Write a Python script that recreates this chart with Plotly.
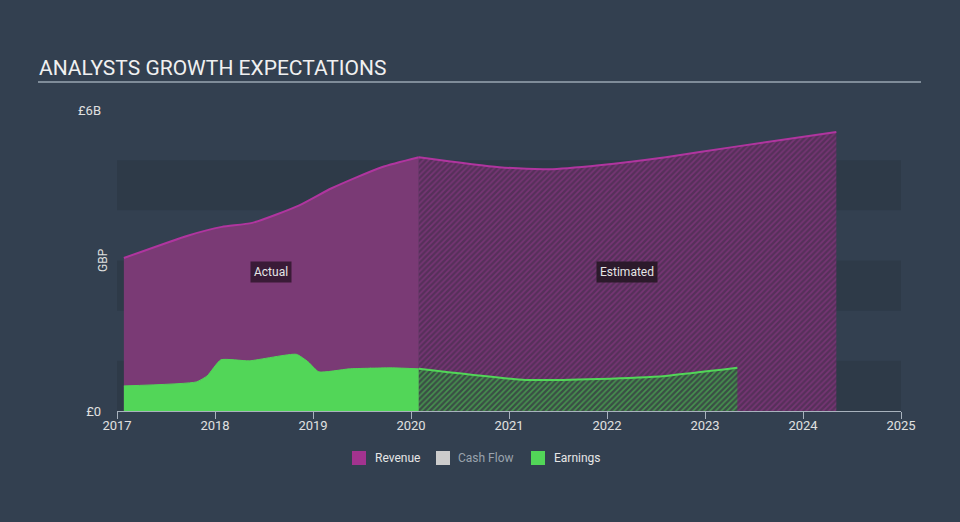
import plotly.graph_objects as go

# ---- data (GBP billions, decimal years) ----
rev_act_x = [2017.07, 2017.73, 2018.07, 2018.38, 2018.86, 2019.19, 2019.70, 2020.08]
rev_act_y = [3.05, 3.50, 3.67, 3.75, 4.10, 4.44, 4.86, 5.06]
rev_est_x = [2020.08, 2020.90, 2021.41, 2021.92, 2022.60, 2023.28, 2024.34]
rev_est_y = [5.06, 4.86, 4.82, 4.90, 5.06, 5.26, 5.56]

earn_act_x = [2017.07, 2017.81, 2017.92, 2018.06, 2018.35, 2018.83, 2018.95, 2019.06, 2019.37, 2019.81, 2020.08]
earn_act_y = [0.50, 0.58, 0.70, 1.02, 1.00, 1.13, 0.98, 0.78, 0.84, 0.86, 0.84]
earn_est_x = [2020.08, 2021.17, 2021.92, 2022.60, 2023.33]
earn_est_y = [0.84, 0.62, 0.64, 0.70, 0.86]

x_ticks = [2017, 2018, 2019, 2020, 2021, 2022, 2023, 2024, 2025]
y_ticks = [0, 6]
y_tick_labels = ["£0", "£6B"]
legend_names = ["Revenue", "Cash Flow", "Earnings"]
legend_colors = ["#a3338f", "#cccccc", "#52d658"]
legend_text_colors = ["#e6e6e6", "#9aa3ad", "#e6e6e6"]

BG = "#334050"
L, R, T, B = 117, 59, 110, 111
W = 960 - L - R
H = 522 - T - B
fig = go.Figure()

# Revenue actual
fig.add_trace(go.Scatter(x=rev_act_x, y=rev_act_y, mode="lines", fill="tozeroy",
                         fillcolor="#7a3a75", line=dict(color="#b0359f", width=2, shape="spline", smoothing=0.6),
                         showlegend=False, hoverinfo="skip"))
# Revenue estimated
fig.add_trace(go.Scatter(x=rev_est_x, y=rev_est_y, mode="lines", fill="tozeroy",
                         fillcolor="#5e3360",
                         fillpattern=dict(shape="/", fgcolor="#963a8e", bgcolor="#56305a", size=4, solidity=0.4),
                         line=dict(color="#b0359f", width=2, shape="spline", smoothing=0.6),
                         showlegend=False, hoverinfo="skip"))
# Earnings actual
fig.add_trace(go.Scatter(x=earn_act_x, y=earn_act_y, mode="lines", fill="tozeroy",
                         fillcolor="#52d658", line=dict(color="#52d658", width=1, shape="spline", smoothing=0.5),
                         showlegend=False, hoverinfo="skip"))
# Earnings estimated
fig.add_trace(go.Scatter(x=earn_est_x, y=earn_est_y, mode="lines", fill="tozeroy",
                         fillcolor="#3d6a46",
                         fillpattern=dict(shape="/", fgcolor="#52d658", bgcolor="#3a4e45", size=4, solidity=0.4),
                         line=dict(color="#52d658", width=2, shape="spline", smoothing=0.6),
                         showlegend=False, hoverinfo="skip"))

def px_x(p):
    return (p - L) / W

def px_y(p):
    return (522 - B - p) / H

# Background bands
shapes = []
for lo in [0, 2, 4]:
    shapes.append(dict(type="rect", xref="x", yref="y", x0=2017, x1=2025, y0=lo, y1=lo + 1,
                       fillcolor="#2e3a48", line=dict(width=0), layer="below"))
# title underline
shapes.append(dict(type="line", xref="paper", yref="paper", x0=px_x(38), x1=px_x(921),
                   y0=px_y(82), y1=px_y(82), line=dict(color="#9aa6b2", width=1.5)))

# manual legend
leg_sq_x = [352, 436, 531]
leg_tx_x = [373, 456, 552]
for i, n in enumerate(legend_names):
    shapes.append(dict(type="rect", xref="paper", yref="paper",
                       x0=px_x(leg_sq_x[i]), x1=px_x(leg_sq_x[i] + 14),
                       y0=px_y(465), y1=px_y(451), fillcolor=legend_colors[i], line=dict(width=0)))
    fig.add_annotation(xref="paper", yref="paper", x=px_x(leg_tx_x[i]), y=px_y(458),
                       xanchor="left", yanchor="middle", text=n, showarrow=False,
                       font=dict(color=legend_text_colors[i], size=12))
fig.update_layout(shapes=shapes)

fig.add_annotation(x=2018.57, y=2.77, text="Actual", showarrow=False,
                   font=dict(color="#e6e6e6", size=12), bgcolor="#3a1b37", borderpad=3)
fig.add_annotation(x=2022.2, y=2.77, text="Estimated", showarrow=False,
                   font=dict(color="#e6e6e6", size=12), bgcolor="#2c1a2b", borderpad=3)
fig.add_annotation(xref="paper", yref="paper", x=px_x(37), y=px_y(68), xanchor="left", yanchor="middle",
                   text="ANALYSTS GROWTH EXPECTATIONS", showarrow=False,
                   font=dict(color="#f0f0f0", size=21))
fig.add_annotation(xref="paper", yref="paper", x=px_x(103), y=px_y(260), xanchor="center", yanchor="middle",
                   text="GBP", textangle=-90, showarrow=False,
                   font=dict(color="#e0e0e0", size=12))

fig.update_layout(
    width=960, height=522,
    paper_bgcolor=BG, plot_bgcolor=BG,
    font=dict(family="Roboto", color="#e0e0e0", size=12),
    margin=dict(l=L, r=R, t=T, b=B),
    showlegend=False,
    xaxis=dict(range=[2017, 2025], tickvals=x_ticks, ticktext=[str(t) for t in x_ticks],
               showgrid=False, zeroline=False, showline=True, linecolor="#a8b2bd", linewidth=1,
               ticks="outside", ticklen=7, tickcolor="#a8b2bd", tickfont=dict(color="#e0e0e0", size=13),
               ticklabelstandoff=-5),
    yaxis=dict(range=[0, 6], tickvals=y_ticks, ticktext=y_tick_labels, showgrid=False, zeroline=False,
               showline=False, ticks="", tickfont=dict(color="#e0e0e0", size=13), ticklabelstandoff=15),
)

fig.write_html("out.html", config={"displayModeBar": False},
               post_script="document.body.style.margin='0';document.body.style.background='%s';" % BG)
